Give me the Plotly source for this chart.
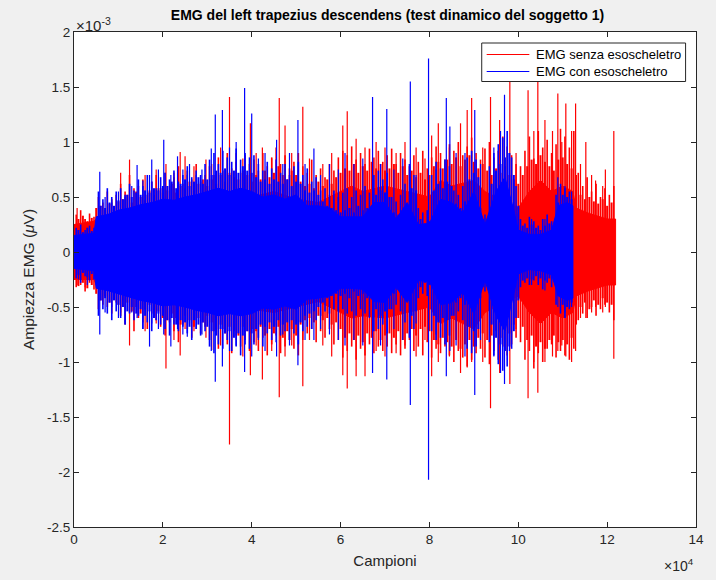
import plotly.graph_objects as go

# Sample index in units of 1e4 samples, amplitude in units of 1e-3
X_UNIT = 1e4
Y_UNIT = 1e-3

# Dense part of each recording: envelope (top / bottom) of the solid band
red_core_x = [0.00, 0.45, 0.50, 1.00, 1.50, 2.00, 2.50, 3.00, 3.50, 4.00, 4.50, 5.00,
              5.50, 6.00, 6.25, 6.50, 7.00, 7.50, 8.00, 8.25, 8.50, 9.00, 9.25, 9.50,
              9.75, 10.00, 10.25, 10.50, 10.75, 11.00, 11.23, 11.30, 11.60, 12.00, 12.19]
red_core_top = [0.25, 0.28, 0.30, 0.35, 0.40, 0.42, 0.45, 0.50, 0.55, 0.50, 0.55, 0.48,
                0.45, 0.55, 0.60, 0.55, 0.60, 0.55, 0.50, 0.65, 0.60, 0.65, 0.55, 0.50,
                0.45, 0.40, 0.55, 0.65, 0.55, 0.60, 0.55, 0.40, 0.35, 0.30, 0.30]
red_core_bot = [-0.25, -0.25, -0.30, -0.35, -0.40, -0.45, -0.45, -0.50, -0.55, -0.52, -0.55, -0.50,
                -0.45, -0.55, -0.60, -0.58, -0.60, -0.55, -0.50, -0.65, -0.60, -0.70, -0.55, -0.50,
                -0.45, -0.40, -0.55, -0.65, -0.55, -0.60, -0.55, -0.40, -0.35, -0.30, -0.30]

blue_core_x = [0.00, 0.45, 0.50, 0.75, 1.00, 1.25, 1.50, 1.75, 2.00, 2.25, 2.50, 2.75,
               3.00, 3.25, 3.50, 3.75, 4.00, 4.25, 4.50, 4.75, 5.00, 5.25, 5.50, 5.75,
               6.00, 6.25, 6.50, 6.75, 7.00, 7.25, 7.50, 7.75, 8.00, 8.25, 8.50, 8.75,
               9.00, 9.25, 9.50, 9.70, 9.90, 10.00, 10.25, 10.50, 10.75, 10.90, 11.10, 11.23]
blue_core_top = [0.15, 0.17, 0.32, 0.34, 0.38, 0.40, 0.43, 0.45, 0.48, 0.47, 0.50, 0.52,
                 0.55, 0.58, 0.55, 0.58, 0.55, 0.50, 0.52, 0.48, 0.52, 0.42, 0.42, 0.40,
                 0.32, 0.32, 0.32, 0.45, 0.45, 0.30, 0.45, 0.25, 0.26, 0.48, 0.45, 0.36,
                 0.55, 0.25, 0.55, 0.68, 0.38, 0.20, 0.16, 0.16, 0.20, 0.42, 0.45, 0.42]
blue_core_bot = [-0.15, -0.17, -0.33, -0.35, -0.38, -0.41, -0.44, -0.46, -0.49, -0.48, -0.50, -0.53,
                 -0.55, -0.58, -0.56, -0.58, -0.56, -0.51, -0.52, -0.49, -0.52, -0.43, -0.42, -0.40,
                 -0.33, -0.33, -0.34, -0.45, -0.46, -0.32, -0.46, -0.26, -0.27, -0.48, -0.46, -0.37,
                 -0.56, -0.26, -0.58, -0.72, -0.38, -0.20, -0.16, -0.17, -0.21, -0.40, -0.44, -0.42]

# Inner oscillation extremes, every 1000 samples
red_inner_x = [0.1, 0.2, 0.3, 0.4, 0.5, 0.6, 0.7, 0.8, 0.9, 1.0,
               1.1, 1.2, 1.3, 1.4, 1.5, 1.6, 1.7, 1.8, 1.9, 2.0,
               2.1, 2.2, 2.3, 2.4, 2.5, 2.6, 2.7, 2.8, 2.9, 3.0,
               3.1, 3.2, 3.3, 3.4, 3.5, 3.6, 3.7, 3.8, 3.9, 4.0,
               4.1, 4.2, 4.3, 4.4, 4.5, 4.6, 4.7, 4.8, 4.9, 5.0,
               5.1, 5.2, 5.3, 5.4, 5.5, 5.6, 5.7, 5.8, 5.9, 6.0,
               6.1, 6.2, 6.3, 6.4, 6.5, 6.6, 6.7, 6.8, 6.9, 7.0,
               7.1, 7.2, 7.3, 7.4, 7.5, 7.6, 7.7, 7.8, 7.9, 8.0,
               8.1, 8.2, 8.3, 8.4, 8.5, 8.6, 8.7, 8.8, 8.9, 9.0,
               9.1, 9.2, 9.3, 9.4, 9.5, 9.6, 9.7, 9.8, 9.9, 10.0,
               10.1, 10.2, 10.3, 10.4, 10.5, 10.6, 10.7, 10.8, 10.9, 11.0,
               11.1, 11.2, 11.3, 11.4, 11.5, 11.6, 11.7, 11.8, 11.9, 12.0,
               12.1]
red_inner_top = [0.30, 0.33, 0.28, 0.31, 0.40, 0.42, 0.38, 0.44, 0.40, 0.46,
                 0.48, 0.52, 0.45, 0.55, 0.50, 0.47, 0.56, 0.52, 0.58, 0.54,
                 0.56, 0.62, 0.54, 0.60, 0.58, 0.64, 0.56, 0.62, 0.66, 0.60,
                 0.66, 0.62, 0.70, 0.64, 0.72, 0.68, 0.66, 0.74, 0.70, 0.64,
                 0.70, 0.66, 0.74, 0.68, 0.72, 0.78, 0.70, 0.66, 0.74, 0.70,
                 0.64, 0.60, 0.62, 0.58, 0.64, 0.60, 0.66, 0.62, 0.68, 0.72,
                 0.76, 0.74, 0.80, 0.72, 0.78, 0.74, 0.82, 0.76, 0.80, 0.74,
                 0.76, 0.80, 0.72, 0.78, 0.70, 0.74, 0.68, 0.72, 0.66, 0.70,
                 0.78, 0.82, 0.76, 0.84, 0.80, 0.86, 0.78, 0.84, 0.88, 0.82,
                 0.76, 0.80, 0.74, 0.70, 0.76, 0.72, 0.78, 0.70, 0.66, 0.62,
                 0.70, 0.78, 0.84, 0.80, 0.88, 0.82, 0.78, 0.74, 0.84, 0.86,
                 0.80, 0.76, 0.70, 0.52, 0.48, 0.50, 0.46, 0.44, 0.48, 0.42,
                 0.45]
red_inner_bot = [-0.31, -0.28, -0.33, -0.30, -0.38, -0.44, -0.40, -0.46, -0.42, -0.48,
                 -0.50, -0.46, -0.54, -0.50, -0.56, -0.52, -0.48, -0.58, -0.54, -0.60,
                 -0.62, -0.56, -0.60, -0.66, -0.58, -0.62, -0.68, -0.60, -0.64, -0.58,
                 -0.64, -0.70, -0.66, -0.74, -0.68, -0.72, -0.76, -0.68, -0.72, -0.70,
                 -0.72, -0.68, -0.76, -0.70, -0.74, -0.68, -0.78, -0.72, -0.70, -0.76,
                 -0.66, -0.62, -0.60, -0.64, -0.58, -0.62, -0.60, -0.66, -0.64, -0.70,
                 -0.78, -0.74, -0.80, -0.76, -0.82, -0.74, -0.78, -0.72, -0.80, -0.76,
                 -0.74, -0.78, -0.72, -0.80, -0.74, -0.70, -0.76, -0.70, -0.68, -0.72,
                 -0.80, -0.84, -0.78, -0.82, -0.86, -0.80, -0.88, -0.84, -0.80, -0.86,
                 -0.78, -0.74, -0.80, -0.76, -0.72, -0.78, -0.70, -0.74, -0.66, -0.60,
                 -0.68, -0.80, -0.76, -0.86, -0.82, -0.88, -0.80, -0.76, -0.82, -0.80,
                 -0.84, -0.78, -0.66, -0.50, -0.46, -0.52, -0.44, -0.48, -0.42, -0.46,
                 -0.48]

blue_inner_x = red_inner_x[:112]
blue_inner_top = [0.20, 0.18, 0.22, 0.19, 0.21, 0.42, 0.40, 0.45, 0.42, 0.47,
                  0.48, 0.52, 0.50, 0.54, 0.52, 0.56, 0.54, 0.58, 0.56, 0.60,
                  0.60, 0.64, 0.58, 0.62, 0.66, 0.60, 0.64, 0.68, 0.62, 0.66,
                  0.70, 0.74, 0.72, 0.76, 0.70, 0.74, 0.72, 0.78, 0.74, 0.72,
                  0.68, 0.64, 0.66, 0.62, 0.66, 0.64, 0.62, 0.66, 0.60, 0.64,
                  0.62, 0.56, 0.54, 0.56, 0.52, 0.46, 0.42, 0.40, 0.38, 0.36,
                  0.38, 0.40, 0.36, 0.42, 0.38, 0.40, 0.36, 0.52, 0.56, 0.54,
                  0.50, 0.36, 0.34, 0.38, 0.40, 0.58, 0.56, 0.30, 0.26, 0.28,
                  0.56, 0.62, 0.58, 0.64, 0.60, 0.44, 0.40, 0.46, 0.66, 0.72,
                  0.68, 0.30, 0.26, 0.62, 0.74, 0.80, 0.86, 0.90, 0.70, 0.42,
                  0.24, 0.22, 0.25, 0.22, 0.20, 0.24, 0.26, 0.24, 0.45, 0.52,
                  0.50, 0.48]
blue_inner_bot = [-0.21, -0.19, -0.23, -0.20, -0.22, -0.44, -0.42, -0.46, -0.44, -0.48,
                  -0.50, -0.54, -0.50, -0.56, -0.52, -0.58, -0.54, -0.60, -0.56, -0.58,
                  -0.62, -0.60, -0.66, -0.62, -0.64, -0.68, -0.62, -0.66, -0.64, -0.68,
                  -0.72, -0.76, -0.70, -0.74, -0.72, -0.78, -0.74, -0.76, -0.72, -0.74,
                  -0.70, -0.66, -0.68, -0.64, -0.68, -0.62, -0.66, -0.64, -0.62, -0.66,
                  -0.64, -0.58, -0.56, -0.54, -0.50, -0.46, -0.42, -0.40, -0.38, -0.40,
                  -0.38, -0.42, -0.36, -0.40, -0.38, -0.42, -0.38, -0.52, -0.58, -0.54,
                  -0.52, -0.38, -0.34, -0.40, -0.42, -0.58, -0.54, -0.32, -0.28, -0.30,
                  -0.58, -0.64, -0.60, -0.62, -0.58, -0.46, -0.42, -0.48, -0.68, -0.72,
                  -0.70, -0.32, -0.28, -0.66, -0.78, -0.84, -0.90, -0.86, -0.72, -0.44,
                  -0.26, -0.24, -0.25, -0.22, -0.24, -0.26, -0.24, -0.26, -0.40, -0.48,
                  -0.50, -0.46]

# Outer oscillation extremes, every 1000 samples (offset by 500)
red_fringe_x = [0.05, 0.15, 0.25, 0.35, 0.45, 0.55, 0.65, 0.75, 0.85, 0.95,
                1.05, 1.15, 1.25, 1.35, 1.45, 1.55, 1.65, 1.75, 1.85, 1.95,
                2.05, 2.15, 2.25, 2.35, 2.45, 2.55, 2.65, 2.75, 2.85, 2.95,
                3.05, 3.15, 3.25, 3.35, 3.45, 3.55, 3.65, 3.75, 3.85, 3.95,
                4.05, 4.15, 4.25, 4.35, 4.45, 4.55, 4.65, 4.75, 4.85, 4.95,
                5.05, 5.15, 5.25, 5.35, 5.45, 5.55, 5.65, 5.75, 5.85, 5.95,
                6.05, 6.15, 6.25, 6.35, 6.45, 6.55, 6.65, 6.75, 6.85, 6.95,
                7.05, 7.15, 7.25, 7.35, 7.45, 7.55, 7.65, 7.75, 7.85, 7.95,
                8.05, 8.15, 8.25, 8.35, 8.45, 8.55, 8.65, 8.75, 8.85, 8.95,
                9.05, 9.15, 9.25, 9.35, 9.45, 9.55, 9.65, 9.75, 9.85, 9.95,
                10.05, 10.15, 10.25, 10.35, 10.45, 10.55, 10.65, 10.75, 10.85, 10.95,
                11.05, 11.15, 11.25, 11.35, 11.45, 11.55, 11.65, 11.75, 11.85, 11.95,
                12.05, 12.15]
red_fringe_top = [0.34, 0.38, 0.30, 0.35, 0.32, 0.50, 0.45, 0.55, 0.48, 0.52,
                  0.62, 0.55, 0.70, 0.58, 0.60, 0.66, 0.52, 0.64, 0.70, 0.58,
                  0.72, 0.60, 0.68, 0.78, 0.62, 0.74, 0.66, 0.80, 0.64, 0.70,
                  0.78, 0.70, 0.86, 0.74, 0.90, 0.76, 0.82, 0.72, 0.88, 0.80,
                  0.84, 0.74, 0.90, 0.78, 0.86, 0.95, 0.80, 0.88, 0.76, 0.82,
                  0.90, 0.78, 0.72, 0.84, 0.70, 0.76, 0.68, 0.80, 0.74, 0.86,
                  0.92, 0.88, 0.96, 0.84, 0.90, 0.80, 0.94, 0.86, 0.92, 0.82,
                  0.88, 0.94, 0.80, 0.90, 0.84, 0.78, 0.88, 0.82, 0.92, 0.76,
                  0.86, 0.96, 0.90, 0.84, 0.98, 0.92, 1.00, 0.88, 0.96, 1.04,
                  0.90, 0.84, 0.94, 1.00, 0.86, 0.92, 1.05, 0.96, 0.88, 0.80,
                  0.78, 0.92, 1.05, 0.85, 1.10, 0.95, 1.02, 0.90, 0.98, 1.12,
                  1.05, 0.95, 1.10, 0.72, 0.60, 0.68, 0.55, 0.62, 0.50, 0.58,
                  0.52, 0.60]
red_fringe_bot = [-0.32, -0.30, -0.36, -0.28, -0.34, -0.52, -0.48, -0.50, -0.56, -0.46,
                  -0.58, -0.66, -0.55, -0.72, -0.60, -0.64, -0.70, -0.56, -0.62, -0.68,
                  -0.76, -0.64, -0.72, -0.82, -0.66, -0.70, -0.78, -0.62, -0.74, -0.68,
                  -0.80, -0.72, -0.88, -0.70, -0.84, -0.92, -0.76, -0.86, -0.80, -0.90,
                  -0.82, -0.90, -0.78, -0.94, -0.84, -0.76, -0.92, -0.86, -0.80, -0.88,
                  -0.94, -0.80, -0.74, -0.70, -0.82, -0.72, -0.78, -0.70, -0.84, -0.80,
                  -0.96, -0.90, -0.86, -0.98, -0.88, -0.94, -0.84, -0.92, -0.86, -0.90,
                  -0.86, -0.92, -0.84, -0.94, -0.88, -0.80, -0.90, -0.86, -0.94, -0.82,
                  -0.96, -0.88, -0.92, -0.86, -0.94, -1.00, -0.90, -0.96, -1.04, -0.98,
                  -0.92, -0.88, -0.96, -1.02, -0.90, -0.98, -0.86, -0.94, -0.84, -0.78,
                  -0.82, -0.98, -0.90, -1.06, -0.92, -1.00, -0.88, -0.84, -0.96, -0.90,
                  -0.94, -0.98, -0.88, -0.62, -0.56, -0.60, -0.50, -0.58, -0.52, -0.48,
                  -0.55, -0.62]

blue_fringe_x = red_fringe_x[:112]
blue_fringe_top = [0.22, 0.25, 0.20, 0.24, 0.22, 0.55, 0.48, 0.58, 0.50, 0.55,
                   0.58, 0.52, 0.62, 0.56, 0.66, 0.60, 0.70, 0.64, 0.58, 0.68,
                   0.72, 0.66, 0.74, 0.64, 0.70, 0.78, 0.68, 0.74, 0.70, 0.80,
                   0.84, 0.90, 0.80, 0.92, 0.86, 0.82, 0.94, 0.84, 0.90, 0.86,
                   0.88, 0.80, 0.74, 0.82, 0.76, 0.84, 0.72, 0.80, 0.70, 0.78,
                   0.82, 0.70, 0.76, 0.64, 0.68, 0.56, 0.58, 0.52, 0.56, 0.50,
                   0.54, 0.58, 0.50, 0.56, 0.52, 0.60, 0.54, 0.70, 0.74, 0.66,
                   0.72, 0.50, 0.46, 0.52, 0.62, 0.80, 0.70, 0.40, 0.36, 0.38,
                   0.70, 0.82, 0.76, 0.84, 0.78, 0.56, 0.52, 0.60, 0.86, 0.92,
                   0.84, 0.40, 0.34, 0.78, 0.90, 0.98, 1.04, 1.10, 0.86, 0.60,
                   0.30, 0.26, 0.32, 0.28, 0.24, 0.30, 0.34, 0.28, 0.52, 0.62,
                   0.58, 0.55]
blue_fringe_bot = [-0.24, -0.28, -0.22, -0.26, -0.25, -0.58, -0.52, -0.56, -0.62, -0.54,
                   -0.60, -0.66, -0.56, -0.62, -0.58, -0.70, -0.64, -0.72, -0.62, -0.66,
                   -0.70, -0.76, -0.66, -0.72, -0.68, -0.74, -0.80, -0.70, -0.76, -0.72,
                   -0.86, -0.92, -0.84, -0.88, -0.80, -0.90, -0.86, -0.94, -0.84, -0.88,
                   -0.84, -0.78, -0.86, -0.74, -0.80, -0.82, -0.76, -0.72, -0.80, -0.74,
                   -0.84, -0.72, -0.68, -0.70, -0.62, -0.58, -0.54, -0.56, -0.52, -0.54,
                   -0.52, -0.56, -0.54, -0.58, -0.52, -0.56, -0.60, -0.72, -0.70, -0.66,
                   -0.74, -0.52, -0.48, -0.54, -0.64, -0.78, -0.70, -0.42, -0.38, -0.40,
                   -0.72, -0.80, -0.78, -0.84, -0.76, -0.58, -0.54, -0.62, -0.88, -0.92,
                   -0.86, -0.42, -0.36, -0.82, -0.94, -1.02, -1.08, -1.04, -0.88, -0.60,
                   -0.32, -0.28, -0.30, -0.26, -0.30, -0.34, -0.28, -0.32, -0.48, -0.56,
                   -0.60, -0.52]

# Isolated peaks: position, positive peak, negative peak
red_spike_x = [0.07, 0.25, 1.05, 1.25, 1.45, 1.60, 1.85, 2.07, 2.25, 2.39, 2.50, 2.70,
               2.97, 3.10, 3.30, 3.50, 3.65, 3.80, 3.97, 4.10, 4.24, 4.45, 4.62, 4.75,
               4.90, 5.15, 5.30, 5.60, 5.80, 6.05, 6.15, 6.35, 6.55, 6.80, 7.00, 7.25,
               7.45, 7.70, 7.90, 8.05, 8.20, 8.45, 8.70, 8.85, 8.95, 9.20, 9.375, 9.58,
               9.81, 9.95, 10.22, 10.35, 10.44, 10.60, 10.77, 10.89, 10.98, 11.07, 11.20, 11.29,
               11.40, 11.52, 11.65, 11.74, 11.90, 11.96, 12.15]
red_spike_top = [0.40, 0.30, 0.72, 0.84, 0.65, 0.70, 0.75, 0.80, 0.72, 0.91, 0.87, 0.78,
                 0.84, 0.80, 0.95, 1.41, 0.90, 0.85, 1.17, 0.90, 0.95, 0.85, 1.40, 1.15,
                 0.90, 1.32, 0.85, 0.80, 0.90, 1.15, 1.28, 1.03, 0.95, 1.00, 0.95, 0.90,
                 1.00, 0.95, 0.85, 1.06, 1.17, 0.95, 1.17, 1.29, 1.40, 0.95, 1.41, 1.20,
                 1.62, 0.90, 1.47, 1.10, 1.62, 1.20, 1.10, 1.44, 1.00, 1.35, 1.10, 1.35,
                 0.80, 1.00, 0.70, 0.65, 0.60, 0.75, 1.10]
red_spike_bot = [-0.30, -0.32, -0.55, -0.85, -0.60, -0.72, -0.65, -1.06, -0.80, -0.94, -0.70, -0.72,
                 -0.78, -0.89, -0.85, -1.75, -0.80, -0.95, -1.12, -0.85, -1.16, -0.90, -1.32, -0.95,
                 -0.85, -1.22, -0.80, -0.85, -0.95, -1.12, -1.24, -1.13, -1.13, -0.90, -0.95, -0.92,
                 -0.85, -0.95, -0.80, -1.13, -1.00, -0.95, -1.10, -1.05, -1.00, -1.00, -1.42, -1.10,
                 -1.20, -0.70, -1.33, -1.00, -1.28, -1.00, -0.95, -0.90, -0.85, -0.95, -1.00, -0.90,
                 -0.60, -0.60, -0.55, -0.50, -0.55, -0.50, -0.97]

blue_spike_x = [0.10, 0.30, 0.58, 0.70, 0.85, 1.00, 1.15, 1.30, 1.42, 1.55, 1.70, 1.75,
                1.90, 2.02, 2.18, 2.33, 2.45, 2.55, 2.60, 2.75, 2.88, 3.09, 3.18, 3.34,
                3.50, 3.65, 3.84, 4.00, 4.15, 4.30, 4.56, 4.70, 4.85, 5.04, 5.20, 5.40,
                5.55, 5.75, 5.95, 6.10, 6.30, 6.50, 6.72, 6.90, 7.04, 7.20, 7.40, 7.57,
                7.70, 7.98, 8.15, 8.38, 8.46, 8.60, 8.80, 9.02, 9.15, 9.45, 9.60, 9.69,
                9.80, 10.00, 10.30, 10.60, 10.89, 11.05, 11.20]
blue_spike_top = [0.20, 0.22, 0.73, 0.50, 0.45, 0.55, 0.50, 0.60, 0.79, 0.65, 0.70, 0.84,
                  0.75, 1.02, 0.70, 0.87, 0.75, 0.70, 0.80, 0.70, 0.75, 0.94, 1.25, 1.29,
                  0.95, 1.00, 1.49, 1.26, 0.85, 0.90, 1.02, 0.80, 0.90, 1.20, 0.80, 0.94,
                  0.70, 0.80, 0.75, 0.90, 0.80, 0.85, 1.41, 0.80, 1.30, 0.75, 0.85, 1.55,
                  0.70, 1.76, 0.75, 1.40, 1.14, 0.90, 0.90, 1.29, 0.80, 0.95, 1.10, 1.43,
                  0.90, 0.35, 0.30, 0.30, 0.68, 0.60, 0.55]
blue_spike_bot = [-0.25, -0.30, -0.75, -0.55, -0.50, -0.60, -0.66, -0.55, -0.60, -0.70, -0.86, -0.65,
                  -0.70, -0.75, -0.86, -0.70, -0.75, -0.77, -0.65, -0.70, -0.75, -0.90, -1.18, -1.04,
                  -0.90, -0.85, -1.09, -0.95, -0.80, -0.90, -0.95, -0.75, -0.85, -1.03, -0.80, -0.80,
                  -0.70, -0.75, -0.80, -0.85, -0.80, -0.85, -1.10, -0.85, -1.16, -0.70, -0.80, -1.39,
                  -0.65, -2.07, -0.75, -1.13, -0.90, -0.85, -0.95, -1.30, -0.80, -0.95, -1.10, -1.20,
                  -0.90, -0.35, -0.30, -0.35, -0.50, -0.55, -0.50]

series_names = ["EMG senza esoscheletro", "EMG con esoscheletro"]
x_tick_vals = [0, 2, 4, 6, 8, 10, 12, 14]
y_tick_vals = [2, 1.5, 1, 0.5, 0, -0.5, -1, -1.5, -2, -2.5]

RED = "rgb(255,0,0)"
BLUE = "rgb(0,0,255)"
AXIS = "rgb(38,38,38)"
FONT = "Liberation Sans, Arial, Helvetica, sans-serif"

# Plot area in pixels (716 x 580 figure)
L, R, T, B = 74, 15, 32, 53
PW, PH = 716 - L - R, 580 - T - B


def band(xs, top, bot):
    px = [v * X_UNIT for v in xs] + [v * X_UNIT for v in reversed(xs)]
    py = [v * Y_UNIT for v in top] + [v * Y_UNIT for v in reversed(bot)]
    return px, py


def segments(xs, top, bot):
    px, py = [], []
    for x, t, b in zip(xs, top, bot):
        px += [x * X_UNIT, x * X_UNIT, None]
        py += [b * Y_UNIT, t * Y_UNIT, None]
    return px, py


def add_series(fig, color, name, core, inner, fringe, peaks):
    bx, by = band(*core)
    fig.add_trace(go.Scatter(x=bx, y=by, mode="lines", fill="toself", fillcolor=color,
                             line=dict(color=color, width=1), showlegend=False,
                             name=name, hoverinfo="skip"))
    for layer, width in ((inner, 2), (fringe, 1.6), (peaks, 1.2)):
        sx, sy = segments(*layer)
        fig.add_trace(go.Scatter(x=sx, y=sy, mode="lines", line=dict(color=color, width=width),
                                 showlegend=False, name=name, hoverinfo="skip"))


fig = go.Figure()
add_series(fig, RED, series_names[0],
           (red_core_x, red_core_top, red_core_bot),
           (red_inner_x, red_inner_top, red_inner_bot),
           (red_fringe_x, red_fringe_top, red_fringe_bot),
           (red_spike_x, red_spike_top, red_spike_bot))
add_series(fig, BLUE, series_names[1],
           (blue_core_x, blue_core_top, blue_core_bot),
           (blue_inner_x, blue_inner_top, blue_inner_bot),
           (blue_fringe_x, blue_fringe_top, blue_fringe_bot),
           (blue_spike_x, blue_spike_top, blue_spike_bot))


def px_x(p):
    return (p - L) / PW


def px_y(p):
    return (580 - B - p) / PH


# MATLAB-style legend box, drawn on top of the data
shapes = [dict(type="rect", xref="paper", yref="paper", layer="above",
               x0=px_x(485), x1=px_x(690.5), y0=px_y(81.5), y1=px_y(43),
               fillcolor="white", line=dict(color=AXIS, width=1))]
annotations = []
for name, color, yp in zip(series_names, [RED, BLUE], [54.5, 71.5]):
    shapes.append(dict(type="line", xref="paper", yref="paper", layer="above",
                       x0=px_x(490), x1=px_x(533), y0=px_y(yp), y1=px_y(yp),
                       line=dict(color=color, width=1)))
    annotations.append(dict(text=name, xref="paper", yref="paper", x=px_x(538),
                            y=px_y(yp), xanchor="left", yanchor="middle", showarrow=False,
                            font=dict(size=13, color="black")))

# Axis multipliers
annotations.append(dict(text="×10<sup>-3</sup>", xref="paper", yref="paper", x=0.0, y=1.0,
                        xanchor="left", yanchor="bottom", showarrow=False,
                        font=dict(size=15, color=AXIS), yshift=-4))
annotations.append(dict(text="×10<sup>4</sup>", xref="paper", yref="paper", x=1.0, y=0.0,
                        xanchor="right", yanchor="top", showarrow=False,
                        font=dict(size=14, color=AXIS), yshift=-27))

fig.update_layout(
    width=716, height=580,
    margin=dict(l=L, r=R, t=T, b=B),
    paper_bgcolor="rgb(240,240,240)",
    plot_bgcolor="white",
    font=dict(family=FONT, color=AXIS, size=13),
    title=dict(text="<b>EMG del left trapezius descendens (test dinamico del soggetto 1)</b>",
               x=(L + 716 - R) / 2 / 716, xanchor="center", y=1 - 15 / 580, yanchor="middle",
               font=dict(size=14, color="black")),
    showlegend=False,
    shapes=shapes,
    annotations=annotations,
)

fig.update_xaxes(
    range=[0, 14 * X_UNIT], tickvals=[v * X_UNIT for v in x_tick_vals],
    ticktext=[str(v) for v in x_tick_vals],
    showgrid=False, zeroline=False, showline=True, linecolor=AXIS, linewidth=1,
    mirror="ticks", ticks="inside", ticklen=5, tickcolor=AXIS,
    tickfont=dict(size=13.5),
    title=dict(text="Campioni", font=dict(size=15), standoff=9),
)
fig.update_yaxes(
    range=[-2.5 * Y_UNIT, 2 * Y_UNIT], tickvals=[v * Y_UNIT for v in y_tick_vals],
    ticktext=[f"{v:g}" for v in y_tick_vals],
    showgrid=False, zeroline=False, showline=True, linecolor=AXIS, linewidth=1,
    mirror="ticks", ticks="inside", ticklen=5, tickcolor=AXIS,
    tickfont=dict(size=13.5),
    title=dict(text="Ampiezza EMG (<i>μ</i>V)", font=dict(size=15.5), standoff=8),
)

fig.write_html("out.html")
